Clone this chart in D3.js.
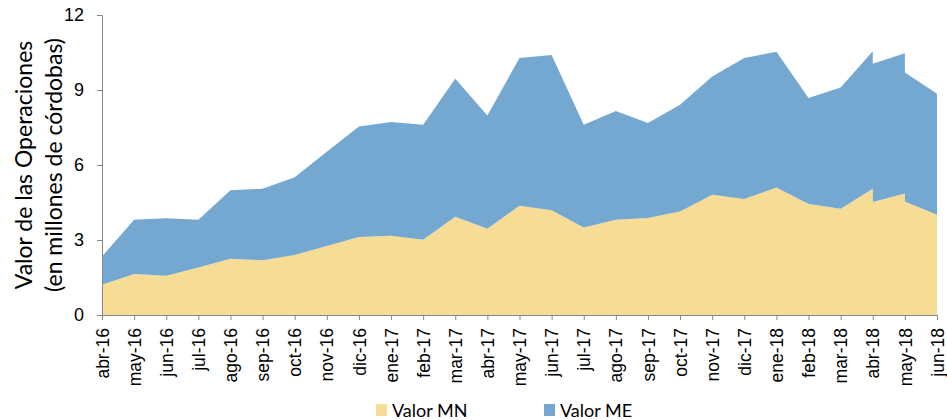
<!DOCTYPE html>
<html lang="es">
<head>
  <meta charset="utf-8">
  <title>Valor de las Operaciones</title>
  <script src="https://cdnjs.cloudflare.com/ajax/libs/d3/7.8.5/d3.min.js"></script>
  <style>
    body { margin: 0; background: #fff; }
    svg { display: block; font-family: Lato, "Open Sans", sans-serif; }
    .axis path, .axis line { stroke: #868686; }
    .axis text { fill: #000; }
  </style>
</head>
<body>
  <script>
    // month labels on the axis
    var meses = ["abr-16", "may-16", "jun-16", "jul-16", "ago-16", "sep-16", "oct-16",
      "nov-16", "dic-16", "ene-17", "feb-17", "mar-17", "abr-17", "may-17", "jun-17",
      "jul-17", "ago-17", "sep-17", "oct-17", "nov-17", "dic-17", "ene-18", "feb-18",
      "mar-18", "abr-18", "may-18", "jun-18"];

    // points of the series (abr-18 and may-18 appear twice, the chart jumps there)
    var puntos = ["abr-16", "may-16", "jun-16", "jul-16", "ago-16", "sep-16", "oct-16",
      "nov-16", "dic-16", "ene-17", "feb-17", "mar-17", "abr-17", "may-17", "jun-17",
      "jul-17", "ago-17", "sep-17", "oct-17", "nov-17", "dic-17", "ene-18", "feb-18",
      "mar-18", "abr-18", "abr-18", "may-18", "may-18", "jun-18"];

    var valorMN = [1.21, 1.64, 1.57, 1.90, 2.25, 2.19, 2.40, 2.76, 3.12, 3.17, 3.01, 3.93,
      3.45, 4.37, 4.19, 3.50, 3.81, 3.88, 4.14, 4.81, 4.64, 5.10, 4.44, 4.25, 5.05, 4.52,
      4.86, 4.54, 4.01];

    var valorME = [1.13, 2.17, 2.30, 1.91, 2.74, 2.86, 3.11, 3.77, 4.42, 4.55, 4.60, 5.52,
      4.53, 5.91, 6.21, 4.11, 4.35, 3.80, 4.27, 4.73, 5.64, 5.43, 4.24, 4.85, 5.50, 5.53,
      5.61, 5.16, 4.84];

    var yTicks = [0, 3, 6, 9, 12];
    var series = ["Valor MN", "Valor ME"];
    var colores = ["#F7DC95", "#74A8D0"];

    var width = 947, height = 420;
    var mLeft = 102, mRight = 937, mTop = 15, mBottom = 315;

    var rows = puntos.map(function (m, i) {
      return { mes: m, "Valor MN": valorMN[i], "Valor ME": valorME[i] };
    });

    var svg = d3.select("body").append("svg")
      .attr("width", width)
      .attr("height", height);

    var x = d3.scalePoint().domain(meses).range([mLeft, mRight]);
    var y = d3.scaleLinear().domain([0, 12]).range([mBottom, mTop]);

    var stacked = d3.stack().keys(series)(rows);

    var area = d3.area()
      .x(function (d) { return x(d.data.mes); })
      .y0(function (d) { return y(d[0]); })
      .y1(function (d) { return y(d[1]); });

    svg.selectAll(".capa").data(stacked).enter().append("path")
      .attr("class", "capa")
      .attr("fill", function (d, i) { return colores[i]; })
      .attr("d", area);

    // axes
    var yAxis = svg.append("g")
      .attr("class", "axis")
      .attr("transform", "translate(" + mLeft + ",0)")
      .call(d3.axisLeft(y).tickValues(yTicks).tickSize(5).tickSizeOuter(0).tickPadding(13));
    yAxis.selectAll("text").style("font-size", "18px");

    var xAxis = svg.append("g")
      .attr("class", "axis")
      .attr("transform", "translate(0," + mBottom + ")")
      .call(d3.axisBottom(x).tickSize(5).tickSizeOuter(0).tickPadding(10));
    xAxis.selectAll("text")
      .style("font-size", "17.5px")
      .attr("text-anchor", "end")
      .attr("transform", "rotate(-90)")
      .attr("x", -13)
      .attr("y", 0)
      .attr("dy", "0.35em");

    // y title
    var titulo = svg.append("text")
      .attr("transform", "translate(24," + ((mTop + mBottom) / 2) + ") rotate(-90)")
      .attr("text-anchor", "middle")
      .style("font-size", "23px");
    titulo.append("tspan").attr("x", 0).attr("dy", "0.35em").text("Valor de las Operaciones");
    titulo.append("tspan").attr("x", 0).attr("dy", "1.3em").text("(en millones de córdobas)");

    // legend
    var legendX = [376, 544];
    var leyenda = svg.selectAll(".leyenda").data(series).enter().append("g")
      .attr("class", "leyenda")
      .attr("transform", function (d, i) { return "translate(" + legendX[i] + ",404)"; });
    leyenda.append("rect")
      .attr("width", 11).attr("height", 12)
      .attr("fill", function (d, i) { return colores[i]; });
    leyenda.append("text")
      .attr("x", 16).attr("y", 13)
      .style("font-size", "18px")
      .text(function (d) { return d; });
  </script>
</body>
</html>
